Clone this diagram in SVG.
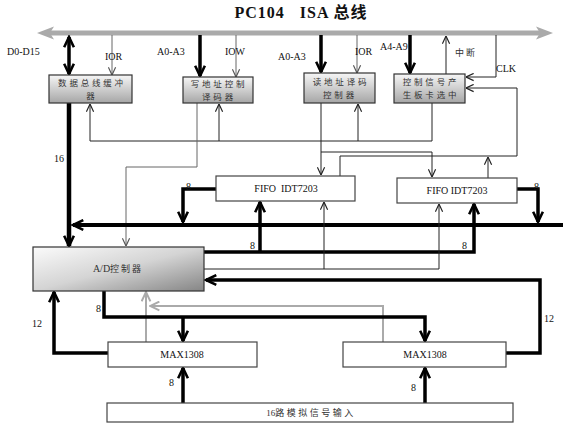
<svg xmlns="http://www.w3.org/2000/svg" width="570" height="426" viewBox="0 0 570 426">
<style>
.bx{stroke:#333;stroke-width:1.2}
.wb{fill:#fff;stroke:#444;stroke-width:1.2}
.cn{font-family:"Noto Sans CJK SC",sans-serif;font-size:8.5px;fill:#333;letter-spacing:2.8px;text-anchor:middle}
.sf{font-family:"Liberation Serif",serif;font-size:10px;fill:#111}
.mid{text-anchor:middle}
.thin{fill:none;stroke:#222;stroke-width:1}
.gthin{fill:none;stroke:#666;stroke-width:1}
.thick{fill:none;stroke:#000;stroke-width:3.5}
.lg{fill:none;stroke:#aaa;stroke-width:2}
</style>
<defs>
<linearGradient id="g1" x1="0" y1="0" x2="0" y2="1"><stop offset="0" stop-color="#f6f6f6"/><stop offset="1" stop-color="#a6a6a6"/></linearGradient>
<linearGradient id="g2" x1="0" y1="0" x2="1" y2="1"><stop offset="0" stop-color="#fbfbfb"/><stop offset="0.5" stop-color="#d4d4d4"/><stop offset="1" stop-color="#858585"/></linearGradient>
<marker id="tk" viewBox="0 0 12 12" refX="10.5" refY="6" markerWidth="13" markerHeight="13" markerUnits="userSpaceOnUse" orient="auto-start-reverse"><path d="M1,1.5 L10.5,6 L1,10.5" fill="none" stroke="#000" stroke-width="2.4"/></marker>
<marker id="tn" viewBox="0 0 10 10" refX="9.5" refY="5" markerWidth="9" markerHeight="9" markerUnits="userSpaceOnUse" orient="auto"><path d="M1,1 L9.5,5 L1,9" fill="none" stroke="#222" stroke-width="1.3"/></marker>
<marker id="tg" viewBox="0 0 10 10" refX="9.5" refY="5" markerWidth="9" markerHeight="9" markerUnits="userSpaceOnUse" orient="auto"><path d="M1,1 L9.5,5 L1,9" fill="none" stroke="#555" stroke-width="1.3"/></marker>
<marker id="tl" viewBox="0 0 10 10" refX="9.5" refY="5" markerWidth="11" markerHeight="11" markerUnits="userSpaceOnUse" orient="auto"><path d="M1,1 L9.5,5 L1,9" fill="none" stroke="#aaa" stroke-width="1.8"/></marker>
</defs>
<rect width="570" height="426" fill="#fff"/>

<text x="301" y="18" font-family="Liberation Serif, Noto Sans CJK SC, serif" font-size="16" font-weight="bold" text-anchor="middle" fill="#111" letter-spacing="1" xml:space="preserve">PC104   ISA 总线</text>

<g id="bus">
<line x1="48" y1="33" x2="542" y2="33" stroke="#aaa" stroke-width="5"/>
<polygon points="37,33 54,26.5 50,33 54,39.5" fill="#aaa"/>
<polygon points="553,33 536,26.5 540,33 536,39.5" fill="#aaa"/>
</g>

<g id="connectors">
<line class="thick" x1="69" y1="37" x2="69" y2="74" marker-start="url(#tk)" marker-end="url(#tk)"/>
<line class="gthin" x1="112" y1="35" x2="112" y2="75" marker-end="url(#tg)"/>
<line class="thick" x1="200" y1="35" x2="200" y2="76" marker-end="url(#tk)"/>
<line class="gthin" x1="236" y1="35" x2="236" y2="77" marker-end="url(#tg)"/>
<line class="thick" x1="321" y1="35" x2="321" y2="72" marker-end="url(#tk)"/>
<line class="gthin" x1="357" y1="35" x2="357" y2="73" marker-end="url(#tg)"/>
<line class="thick" x1="410" y1="35" x2="410" y2="73" marker-end="url(#tk)"/>
<line class="thin" x1="446" y1="74" x2="446" y2="36" marker-end="url(#tn)"/>
<path class="thin" d="M496,35 V77 H466" marker-end="url(#tn)"/>
<path class="thin" d="M340,176 V156 H517 V88 H466" marker-end="url(#tn)"/>
<line class="thin" x1="488" y1="178" x2="488" y2="157" marker-end="url(#tn)"/>
<path class="thin" d="M432,103 V141 H90 V104" marker-end="url(#tn)"/>
<line class="thin" x1="219" y1="141" x2="219" y2="104" marker-end="url(#tn)"/>
<line class="thin" x1="358" y1="141" x2="358" y2="104" marker-end="url(#tn)"/>
<line class="thin" x1="321" y1="103" x2="321" y2="175" marker-end="url(#tn)"/>
<path class="thin" d="M321,152 H432 V177" marker-end="url(#tn)"/>
<path class="gthin" d="M197,103 V167 H126 V246" marker-end="url(#tg)"/>
<line x1="69" y1="103" x2="69" y2="246" stroke="#000" stroke-width="4.5" marker-end="url(#tk)"/>
<line x1="563" y1="225" x2="73" y2="225" stroke="#000" stroke-width="4" marker-end="url(#tk)"/>
<path class="thick" d="M216,189 H183 V222" marker-end="url(#tk)"/>
<path class="thick" d="M517,189 H538 V222" marker-end="url(#tk)"/>
<path class="thick" d="M204,252 H474 V204" marker-end="url(#tk)"/>
<line class="thick" x1="260" y1="252" x2="260" y2="202" marker-end="url(#tk)"/>
<path class="thin" d="M204,269 H439 V204" marker-end="url(#tn)"/>
<line class="thin" x1="324" y1="269" x2="324" y2="202" marker-end="url(#tn)"/>
<path class="thick" d="M506,353 H540 V280 H206" marker-end="url(#tk)"/>
<path class="lg" d="M383,342 V306 H150" marker-end="url(#tl)"/>
<line class="lg" x1="146" y1="342" x2="146" y2="292" marker-end="url(#tl)"/>
<path class="thick" d="M104,291 V317 H425 V341" marker-end="url(#tk)"/>
<line class="thick" x1="183" y1="317" x2="183" y2="341" marker-end="url(#tk)"/>
<path class="thick" d="M108,353 H54 V292" marker-end="url(#tk)"/>
<line class="thick" x1="183" y1="403" x2="183" y2="368" marker-end="url(#tk)"/>
<line class="thick" x1="425" y1="403" x2="425" y2="368" marker-end="url(#tk)"/>
</g>

<g id="labels">
<text class="sf" x="7" y="55">D0-D15</text>
<text class="sf" x="105" y="60">IOR</text>
<text class="sf" x="157" y="55">A0-A3</text>
<text class="sf" x="225" y="55">IOW</text>
<text class="sf" x="278" y="60">A0-A3</text>
<text class="sf" x="355" y="55">IOR</text>
<text class="sf" x="380" y="50">A4-A9</text>
<text x="455" y="56" font-family="Noto Sans CJK SC, sans-serif" font-size="9" fill="#333" letter-spacing="2">中断</text>
<text class="sf" x="496" y="72">CLK</text>
<text class="sf" x="54" y="162" font-size="9">16</text>
<text class="sf" x="186" y="190" font-size="9">8</text>
<text class="sf" x="534" y="190" font-size="9">8</text>
<text class="sf" x="250" y="249" font-size="9">8</text>
<text class="sf" x="462" y="249" font-size="9">8</text>
<text class="sf" x="96" y="312" font-size="9">8</text>
<text class="sf" x="32" y="327" font-size="9">12</text>
<text class="sf" x="544" y="322" font-size="9">12</text>
<text class="sf" x="169" y="386" font-size="9">8</text>
<text class="sf" x="411" y="391" font-size="9">8</text>
</g>

<g id="buf">
<rect class="bx" x="49" y="75" width="83" height="28" fill="url(#g1)"/>
<text class="cn" x="92" y="86">数据总线缓冲</text>
<text class="cn" x="92" y="99">器</text>
</g>
<g id="wdec">
<rect class="bx" x="183" y="77" width="70" height="26" fill="url(#g1)"/>
<text class="cn" x="219" y="87">写地址控制</text>
<text class="cn" x="219" y="99.5">译码器</text>
</g>
<g id="rdec">
<rect class="bx" x="304" y="73" width="71" height="30" fill="url(#g1)"/>
<text class="cn" x="341" y="85">读地址译码</text>
<text class="cn" x="340" y="98">控制器</text>
</g>
<g id="ctrl">
<rect class="bx" x="394" y="74" width="71" height="29" fill="url(#g1)"/>
<text class="cn" x="431" y="85">控制信号产</text>
<text class="cn" x="431" y="98">生板卡选中</text>
</g>
<g id="fifo1">
<rect class="wb" x="216" y="176" width="139" height="25"/>
<text class="sf mid" x="286" y="192" xml:space="preserve">FIFO  IDT7203</text>
</g>
<g id="fifo2">
<rect class="wb" x="397" y="178" width="120" height="25"/>
<text class="sf mid" x="457" y="194">FIFO IDT7203</text>
</g>
<g id="adc">
<rect class="bx" x="33" y="247" width="171" height="44" fill="url(#g2)"/>
<text x="118" y="272" font-family="Liberation Serif, Noto Sans CJK SC, serif" font-size="10" fill="#333" text-anchor="middle">A/D<tspan font-family="Noto Sans CJK SC, sans-serif" font-size="9" letter-spacing="2">控制器</tspan></text>
</g>
<g id="max1">
<rect class="wb" x="108" y="342" width="149" height="25"/>
<text class="sf mid" x="182" y="358">MAX1308</text>
</g>
<g id="max2">
<rect class="wb" x="343" y="342" width="163" height="25"/>
<text class="sf mid" x="425" y="358">MAX1308</text>
</g>
<g id="input">
<rect class="wb" x="107" y="403" width="406" height="19"/>
<text x="311" y="416" font-family="Liberation Serif, Noto Sans CJK SC, serif" font-size="9" fill="#333" text-anchor="middle">16<tspan font-family="Noto Sans CJK SC, sans-serif" letter-spacing="2.5">路模拟信号输入</tspan></text>
</g>
</svg>
